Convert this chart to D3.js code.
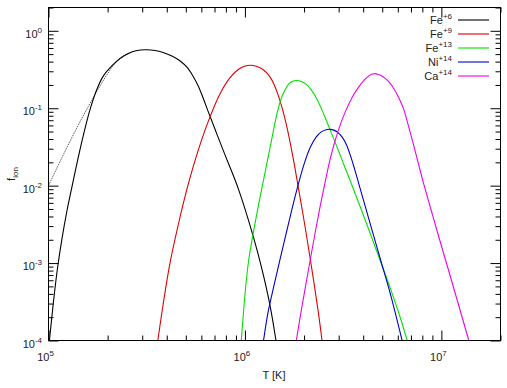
<!DOCTYPE html>
<html><head><meta charset="utf-8">
<script src="https://cdn.jsdelivr.net/npm/d3@7"></script>
<style>body{margin:0;background:#fff}svg{display:block}text{font-family:"Liberation Sans",Arial,sans-serif;fill:#222}</style>
</head><body><svg id="c" width="507" height="388"></svg>
<script>
// ---- data (T in K, ionisation fraction) ----
const fe6T = [1.011e5,1.058e5,1.111e5,1.172e5,1.243e5,1.318e5,1.414e5,1.517e5,1.628e5,1.746e5,1.896e5,2.100e5,2.314e5,2.551e5,2.793e5,3.104e5,
  3.49e5,3.834e5,4.246e5,4.68e5,5.08e5,5.452e5,5.80e5,6.152e5,6.524e5,7.141e5,7.936e5,9.277e5,1.106e6,1.225e6,1.335e6,1.439e6];
const fe6F = [1e-4,3.03e-4,8.57e-4,2.09e-3,4.81e-3,9.8e-3,0.02254,0.04875,0.0966,0.1648,0.2576,0.3516,0.4395,0.5096,0.552,0.569,
  0.557,0.525,0.473,0.408,0.3365,0.2576,0.1914,0.1318,0.0884,0.0488,0.0246,8.97e-3,2.15e-3,8.07e-4,3.03e-4,1e-4];
const fe6altT = [1.0e5,1.172e5,1.365e5,1.590e5,1.830e5,2.011e5,2.208e5,2.425e5,2.665e5];
const fe6altF = [0.0100,0.02321,0.05023,0.104,0.194,0.2858,0.396,0.481,0.533];
const fe9T = [3.603e5,3.834e5,4.163e5,4.571e5,5.063e5,5.781e5,6.656e5,7.484e5,8.418e5,9.245e5,1.0035e6,1.064e6,
  1.1418e6,1.2251e6,1.2842e6,1.346e6,1.411e6,1.478e6,1.549e6,1.624e6,1.702e6,1.784e6,1.869e6,1.959e6,2.053e6,2.152e6,2.255e6,2.364e6,2.469e6];
const fe9F = [1e-4,2.94e-4,1.026e-3,3.08e-3,8.97e-3,0.02858,0.0785,0.1553,0.250,0.317,0.3516,0.359,
  0.3487,0.3217,0.2899,0.250,0.200,0.1466,0.0995,0.0618,0.0352,0.01884,9.5e-3,4.81e-3,2.355e-3,1.12e-3,5.18e-4,2.32e-4,1e-4];
const fe13T = [9.577e5,9.861e5,1.0153e6,1.0517e6,1.1023e6,1.1688e6,1.2395e6,1.3145e6,1.394e6,1.461e6,1.531e6,1.605e6,1.682e6,1.763e6,1.826e6,
  1.936e6,2.053e6,2.177e6,2.308e6,2.448e6,2.596e6,2.754e6,2.954e6,3.17e6,3.442e6,3.871e6,4.351e6,4.894e6,5.504e6,6.19e6,6.696e6];
const fe13F = [1e-4,2.54e-4,5.83e-4,1.225e-3,2.43e-3,5.41e-3,0.01138,0.02388,0.05023,0.0884,0.134,0.175,0.209,0.2254,0.2286,
  0.222,0.203,0.1722,0.136,0.0995,0.0697,0.0481,0.03076,0.01941,0.01138,5.25e-3,2.39e-3,1.057e-3,4.67e-4,1.94e-4,1e-4];
const ni14T = [1.2438e6,1.3145e6,1.411e6,1.513e6,1.624e6,1.742e6,1.869e6,2.006e6,2.152e6,2.308e6,2.448e6,2.596e6,2.721e6,
  2.852e6,2.989e6,3.133e6,3.283e6,3.442e6,3.607e6,3.781e6,4.009e6,4.351e6,4.894e6,5.504e6,6.31e6];
const ni14F = [1e-4,2.39e-4,5.33e-4,1.153e-3,2.46e-3,5.18e-3,0.0104,0.01941,0.03126,0.04266,0.04955,0.05284,0.05333,
  0.05176,0.0481,0.0421,0.0341,0.0246,0.01675,0.01104,6.56e-3,3.17e-3,1.12e-3,3.96e-4,1e-4];
const ca14T = [1.826e6,1.9138e6,2.029e6,2.152e6,2.282e6,2.42e6,2.567e6,2.721e6,2.886e6,3.061e6,3.283e6,3.523e6,3.781e6,4.057e6,4.302e6,4.524e6,
  4.779e6,5.07e6,5.376e6,5.701e6,6.046e6,6.41e6,6.798e6,7.208e6,7.643e6,8.105e6,8.801e6,9.553e6,1.0493e7,1.18e7,1.38e7];
const ca14F = [1e-4,2.06e-4,4.81e-4,1.12e-3,2.54e-3,5.57e-3,0.01153,0.02254,0.039,0.0618,0.0966,0.14,0.1858,0.2323,0.2655,0.2793,
  0.2733,0.2535,0.2218,0.1828,0.14,0.0995,0.0592,0.0341,0.01914,0.01087,5.18e-3,2.5e-3,1.104e-3,3.96e-4,1e-4];
const seriesNames = ["Fe","Fe","Fe","Ni","Ca"];
const seriesCharges = ["+6","+9","+13","+14","+14"];
const seriesColors = ["#000000","#dd0000","#00e000","#0000cc","#ee00ee"];
const xMajor = [1e5,1e6,1e7];
const xExp = ["5","6","7"];
const yMajor = [1,0.1,0.01,1e-3,1e-4];
const yExp = ["0","-1","-2","-3","-4"];

// ---- layout ----
const L=48.5, R=500.5, T=7.5, B=340.5;
const svg = d3.select("#c");
const x = d3.scaleLog().domain([1e5,2e7]).range([L,R]);
const y = d3.scaleLog().domain([1e-4,2]).range([B,T]);

function minors(dom){const out=[];for(let e=Math.floor(Math.log10(dom[0]));e<=Math.ceil(Math.log10(dom[1]));e++){for(let m=2;m<=9;m++){const v=m*Math.pow(10,e);if(v>dom[0]&&v<=dom[1]*1.000001)out.push(v);}}return out;}
const xMinor = minors(x.domain()), yMinor = minors(y.domain());

function ax(gen, scale, vals, size, tr){
  const g = svg.append("g").attr("transform",tr)
    .call(gen(scale).tickValues(vals).tickSizeInner(size).tickSizeOuter(0).tickFormat(""));
  g.select(".domain").remove();
  g.selectAll(".tick line").attr("stroke","#000");
  g.selectAll(".tick text").remove();
  return g;
}
ax(d3.axisBottom,x,xMajor,-10,`translate(0,${B})`);
ax(d3.axisBottom,x,xMinor,-5,`translate(0,${B})`);
ax(d3.axisTop,x,xMajor,-10,`translate(0,${T})`);
ax(d3.axisTop,x,xMinor,-5,`translate(0,${T})`);
ax(d3.axisLeft,y,yMajor,-10,`translate(${L},0)`);
ax(d3.axisLeft,y,yMinor,-5,`translate(${L},0)`);
ax(d3.axisRight,y,yMajor,-10,`translate(${R},0)`);
ax(d3.axisRight,y,yMinor,-5,`translate(${R},0)`);

// labels
xMajor.forEach((v,i)=>{
  const t = svg.append("text").attr("x",x(v)-3).attr("y",361).attr("font-size",11).attr("text-anchor","middle");
  t.append("tspan").text("10");
  t.append("tspan").attr("dy",-5).attr("font-size",8).text(xExp[i]);
});
yMajor.forEach((v,i)=>{
  const t = svg.append("text").attr("x",42).attr("y",y(v)+7).attr("font-size",11).attr("text-anchor","end");
  t.append("tspan").text("10");
  t.append("tspan").attr("dy",-5).attr("font-size",8).text(yExp[i]);
});
svg.append("text").attr("x",274).attr("y",379).attr("font-size",11).attr("text-anchor","middle").text("T [K]");
const yl = svg.append("text").attr("transform",`translate(15,${(T+B)/2}) rotate(-90)`).attr("font-size",11).attr("text-anchor","middle");
yl.append("tspan").text("f");
yl.append("tspan").attr("dy",3).attr("font-size",8).text("ion");

// clip
svg.append("clipPath").attr("id","clip").append("rect").attr("x",L).attr("y",T).attr("width",R-L).attr("height",B-T);
const line = d3.line().x(d=>x(d[0])).y(d=>y(d[1])).curve(d3.curveCatmullRom.alpha(0.5));
const plot = svg.append("g").attr("clip-path","url(#clip)");
const zip=(a,b)=>a.map((v,i)=>[v,b[i]]);
plot.append("path").attr("d",line(zip(fe6altT,fe6altF))).attr("fill","none").attr("stroke","#555").attr("stroke-width",1).attr("stroke-dasharray","1.5,1");
const allT=[fe6T,fe9T,fe13T,ni14T,ca14T], allF=[fe6F,fe9F,fe13F,ni14F,ca14F];
allT.forEach((tt,i)=>{
  plot.append("path").attr("d",line(zip(tt,allF[i]))).attr("fill","none").attr("stroke",seriesColors[i]).attr("stroke-width",1.1);
});

// frame
svg.append("rect").attr("x",L).attr("y",T).attr("width",R-L).attr("height",B-T).attr("fill","none").attr("stroke","#000");

// legend
seriesNames.forEach((n,i)=>{
  const yy = 20 + i*14;
  const t = svg.append("text").attr("x",452).attr("y",yy+4).attr("font-size",11).attr("text-anchor","end");
  t.append("tspan").text(n);
  t.append("tspan").attr("dy",-5).attr("font-size",8).text(seriesCharges[i]);
  svg.append("line").attr("x1",458).attr("x2",489).attr("y1",yy).attr("y2",yy).attr("stroke",seriesColors[i]).attr("stroke-width",1.1);
});
</script></body></html>
